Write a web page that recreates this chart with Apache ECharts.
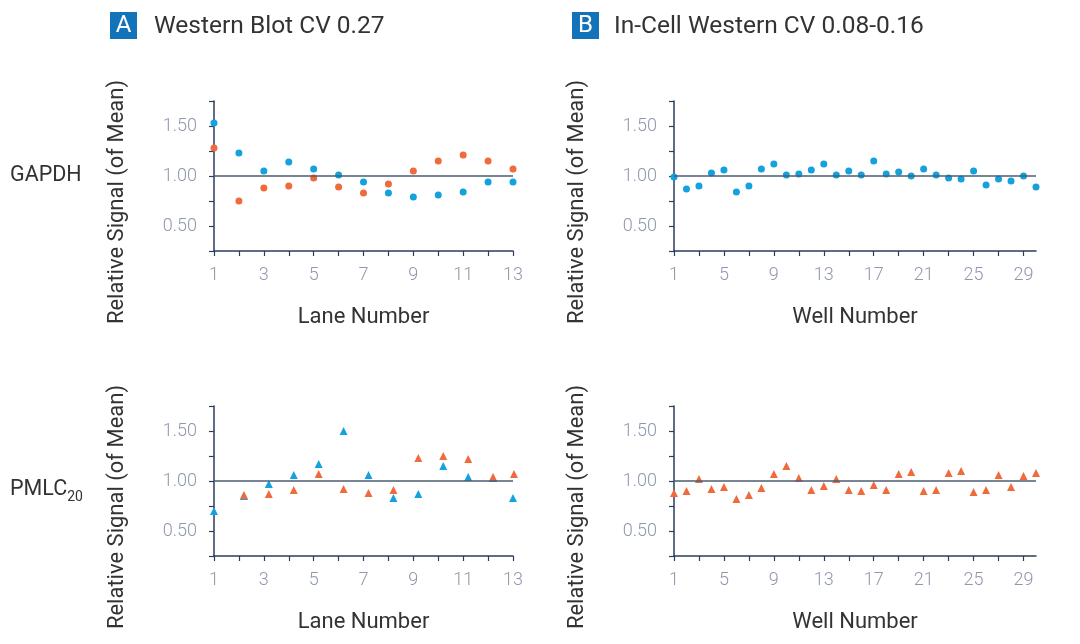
<!DOCTYPE html>
<html>
<head>
<meta charset="utf-8">
<script src="https://cdn.jsdelivr.net/npm/echarts@6/dist/echarts.min.js"></script>
<style>
html,body{margin:0;padding:0;background:#fff;}
#c{width:1080px;height:644px;}
</style>
</head>
<body>
<div id="c"></div>
<script>
// ---- data ----
const lanes = ['1','2','3','4','5','6','7','8','9','10','11','12','13'];
const wells = ['1','2','3','4','5','6','7','8','9','10','11','12','13','14','15','16','17','18','19','20','21','22','23','24','25','26','27','28','29','30'];
const yTickLabels = ['0.50','1.00','1.50'];

const gapdhWBBlue   = [1.53,1.23,1.05,1.14,1.07,1.01,0.94,0.83,0.79,0.81,0.84,0.94,0.94];
const gapdhWBOrange = [1.28,0.75,0.88,0.90,0.98,0.89,0.83,0.92,1.05,1.15,1.21,1.15,1.07];
const gapdhICW = [0.99,0.87,0.90,1.03,1.06,0.84,0.90,1.07,1.12,1.01,1.02,1.06,1.12,1.01,1.05,
                  1.01,1.15,1.02,1.04,1.00,1.07,1.01,0.98,0.97,1.05,0.91,0.97,0.95,1.00,0.89];
const pmlcWBBlue   = [0.70,0.85,0.97,1.06,1.17,1.50,1.06,0.83,0.87,1.15,1.04,1.03,0.83];
const pmlcWBOrange = ['-',0.86,0.87,0.91,1.07,0.92,0.88,0.91,1.23,1.25,1.22,1.04,1.07];
const pmlcICW = [0.88,0.90,1.02,0.92,0.94,0.82,0.86,0.93,1.07,1.15,1.03,0.91,0.95,1.02,0.91,
                 0.90,0.96,0.91,1.07,1.09,0.90,0.91,1.08,1.10,0.89,0.91,1.06,0.94,1.05,1.08];

// ---- styles ----
const BLUE = '#13a2dd', ORANGE = '#ef6a3d', AXIS = '#2c3d5b', TICKLBL = '#8f98ad', TXT = '#333333';
const FONT = 'Roboto';

const grids = [
  {left:214, top:101, width:299, height:150},
  {left:674, top:101, width:362, height:150},
  {left:214, top:406, width:299, height:150},
  {left:674, top:406, width:362, height:150}
];

function xAxis(gi, cats, tickInt, lblInt, name){
  return {
    type:'category', gridIndex:gi, data:cats, boundaryGap:false,
    axisLine:{show:true, lineStyle:{color:AXIS, width:1.5}},
    axisTick:{show:true, interval:tickInt, length:5, lineStyle:{color:AXIS, width:1.2}},
    axisLabel:{interval:lblInt, margin:15, color:TICKLBL, fontSize:18, fontFamily:FONT, fontWeight:300},
    splitLine:{show:false},
    name:name, nameLocation:'middle', nameGap:55,
    nameTextStyle:{color:TXT, fontSize:22, fontFamily:FONT}
  };
}
function yAxis(gi){
  return {
    type:'value', gridIndex:gi, min:0.25, max:1.75, interval:0.25,
    axisLine:{show:true, lineStyle:{color:AXIS, width:1.5}},
    axisTick:{show:true, length:5, lineStyle:{color:AXIS, width:1.2}},
    axisLabel:{margin:17, color:TICKLBL, fontSize:18, fontFamily:FONT, fontWeight:300,
      formatter:function(v){ const s=v.toFixed(2); return yTickLabels.indexOf(s)>=0 ? s : ''; }},
    splitLine:{show:false},
    name:'Relative Signal (of Mean)', nameLocation:'middle', nameGap:86,
    nameTextStyle:{color:TXT, fontSize:22, fontFamily:FONT, padding:[0,52,0,0]}
  };
}
const refLine = {silent:true, symbol:'none', label:{show:false},
  lineStyle:{color:'#4d5b72', width:1.5, type:'solid'}, data:[{yAxis:1}]};

function sc(gi, data, color, symbol, size, extra){
  return Object.assign({
    type:'scatter', xAxisIndex:gi, yAxisIndex:gi, data:data,
    symbol:symbol, symbolSize:size, itemStyle:{color:color, opacity:1}, z:3
  }, extra||{});
}

const pmlcBlueData = pmlcWBBlue.map((v,i)=> (i===0||i===12) ? {value:v, symbolOffset:[0,0]} : v);
const pmlcOrangeData = pmlcWBOrange.map((v,i)=> (i===12) ? {value:v, symbolOffset:[1,0]} : v);

const option = {
  animation:false,
  backgroundColor:'#ffffff',
  grid:grids,
  xAxis:[
    xAxis(0, lanes, 0, 1, 'Lane Number'),
    xAxis(1, wells, 1, 3, 'Well Number'),
    xAxis(2, lanes, 0, 1, 'Lane Number'),
    xAxis(3, wells, 1, 3, 'Well Number')
  ],
  yAxis:[yAxis(0), yAxis(1), yAxis(2), yAxis(3)],
  series:[
    sc(0, gapdhWBBlue, BLUE, 'circle', 7, {markLine:refLine}),
    sc(0, gapdhWBOrange, ORANGE, 'circle', 7),
    sc(1, gapdhICW, BLUE, 'circle', 7, {markLine:refLine}),
    sc(2, pmlcBlueData, BLUE, 'triangle', 8, {markLine:refLine, symbolOffset:[5,0]}),
    sc(2, pmlcOrangeData, ORANGE, 'triangle', 8, {symbolOffset:[5,0]}),
    sc(3, pmlcICW, ORANGE, 'triangle', 8, {markLine:refLine})
  ],
  graphic:[
    {type:'rect', shape:{x:110, y:12, width:27, height:27}, style:{fill:'#1273b9'}},
    {type:'text', style:{x:123.5, y:26, text:'A', fill:'#fff', font:'24px '+FONT, textAlign:'center', textVerticalAlign:'middle'}},
    {type:'text', style:{x:154, y:27, text:'Western Blot CV 0.27', fill:TXT, font:'24.5px '+FONT, textVerticalAlign:'middle'}},
    {type:'rect', shape:{x:572, y:12, width:27, height:27}, style:{fill:'#1273b9'}},
    {type:'text', style:{x:585.5, y:26, text:'B', fill:'#fff', font:'24px '+FONT, textAlign:'center', textVerticalAlign:'middle'}},
    {type:'text', style:{x:614, y:27, text:'In-Cell Western CV 0.08-0.16', fill:TXT, font:'24.5px '+FONT, textVerticalAlign:'middle'}},
    {type:'text', style:{x:10, y:176, text:'GAPDH', fill:TXT, font:'21.5px '+FONT, textVerticalAlign:'middle'}},
    {type:'text', style:{x:10, y:490, text:'{m|PMLC}{s|20}', fill:TXT, textVerticalAlign:'middle',
      rich:{m:{fontSize:21.5, fontFamily:FONT, color:TXT, verticalAlign:'middle'},
            s:{fontSize:14, fontFamily:FONT, color:TXT, padding:[15,0,0,0], verticalAlign:'middle'}}}}
  ]
};
const chart = echarts.init(document.getElementById('c'), null, {renderer:'canvas'});
chart.setOption(option);
</script>
</body>
</html>
